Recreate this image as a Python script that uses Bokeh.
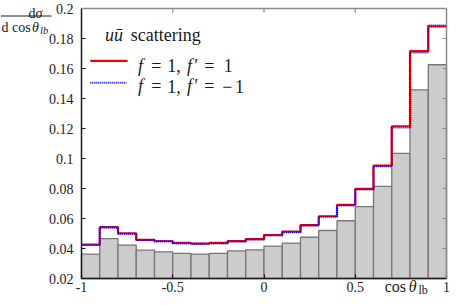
from bokeh.plotting import figure
from bokeh.models import FixedTicker, Range1d, Label, Arrow, LinearAxis
from bokeh.embed import file_html
from bokeh.resources import INLINE

# ---------------- data ----------------
bin_edges = [-1.0, -0.9, -0.8, -0.7, -0.6, -0.5, -0.4, -0.3, -0.2, -0.1, 0.0,
             0.1, 0.2, 0.3, 0.4, 0.5, 0.6, 0.7, 0.8, 0.9, 1.0]
gray_hist = [0.0362, 0.0466, 0.0423, 0.0389, 0.0377, 0.0367, 0.0363, 0.0368, 0.0384, 0.0391,
             0.0416, 0.0436, 0.0475, 0.0520, 0.0585, 0.0679, 0.0814, 0.1034, 0.1458, 0.1625]
red_f1_fp1 = [0.0426, 0.0542, 0.0501, 0.0458, 0.0450, 0.0437, 0.0433, 0.0437, 0.0449, 0.0463,
              0.0490, 0.0512, 0.0556, 0.0615, 0.0691, 0.0798, 0.0953, 0.1215, 0.1716, 0.1880]
blue_f1_fpm1 = [0.0424, 0.0540, 0.0499, 0.0456, 0.0447, 0.0434, 0.0431, 0.0434, 0.0446, 0.0460,
                0.0487, 0.0509, 0.0553, 0.0611, 0.0687, 0.0794, 0.0948, 0.1207, 0.1706, 0.1887]
x_ticks = [-1, -0.5, 0, 0.5, 1]
x_tick_labels = ["-1", "-0.5", "0", "0.5", "1"]
y_ticks = [0.02, 0.04, 0.06, 0.08, 0.1, 0.12, 0.14, 0.16, 0.18, 0.2]
y_tick_labels = ["0.02", "0.04", "0.06", "0.08", "0.1", "0.12", "0.14", "0.16", "0.18", "0.2"]

FONT = "Liberation Serif"
DARK = "#1a1a1a"
FRAME_GRAY = "#8a8a8a"

# layout: the plotting frame fills the figure; the axes box is placed by pixels
W, H = 450, 297
PX_L, PX_R, PX_T, PX_B = 81, 446, 8, 278      # pixels of x=-1, x=1, y=0.2, y=0.02
x0, x1 = x_ticks[0], x_ticks[-1]
y0, y1 = y_ticks[0], y_ticks[-1]
sx = (PX_R - PX_L) / (x1 - x0)
sy = (PX_B - PX_T) / (y1 - y0)
x_start, x_end = x0 - PX_L / sx, x1 + (W - PX_R) / sx
y_start, y_end = y0 - (H - PX_B) / sy, y1 + PX_T / sy

p = figure(width=W, height=H, output_backend="svg", toolbar_location=None,
           x_range=Range1d(x_start, x_end), y_range=Range1d(y_start, y_end),
           x_axis_location=None, y_axis_location=None, min_border=0)
p.outline_line_color = None
p.xgrid.visible = False
p.ygrid.visible = False
p.background_fill_color = "white"
p.border_fill_color = "white"


def xd(px):
    return x_start + px / sx


def yd(py):
    return y_end - py / sy


def xr(ref_px):
    return PX_L + (ref_px - 81) * (PX_R - PX_L) / (453 - 81)


def yr(ref_py):
    return PX_T + (ref_py - 7) * (PX_B - PX_T) / (282 - 7)


def style_axis(ax, ticks, labels, standoff):
    ax.ticker = FixedTicker(ticks=ticks)
    ax.minor_tick_line_color = None
    ax.major_tick_in = 4
    ax.major_tick_out = 0
    ax.axis_line_color = DARK
    ax.axis_line_width = 1.5
    ax.major_tick_line_color = DARK
    ax.major_tick_line_width = 1.2
    ax.major_label_overrides = {t: l for t, l in zip(ticks, labels)}
    ax.major_label_text_font = FONT
    ax.major_label_text_font_size = "14px"
    ax.major_label_text_color = "#222222"
    ax.major_label_standoff = standoff


# histogram bars
p.quad(left=bin_edges[:-1], right=bin_edges[1:], bottom=y0, top=gray_hist,
       fill_color="#cccccc", line_color="#777777", line_width=1.3)

# step lines
p.step(x=bin_edges, y=red_f1_fp1 + [red_f1_fp1[-1]], mode="after",
       line_color="#ff0000", line_width=2.2)
p.step(x=bin_edges, y=blue_f1_fpm1 + [blue_f1_fpm1[-1]], mode="after",
       line_color="#0000ff", line_width=2, line_dash="1 1")

# axes at fixed locations
xa = LinearAxis(fixed_location=y0, bounds=(x0, x1))
style_axis(xa, x_ticks, x_tick_labels, 3)
p.add_layout(xa, "below")
ya = LinearAxis(fixed_location=x0, bounds=(y0, y1))
style_axis(ya, y_ticks, y_tick_labels, 8)
p.add_layout(ya, "left")


def seg(xa_, ya_, xb_, yb_, color, width, dash="solid"):
    p.add_layout(Arrow(end=None, x_start=xa_, y_start=ya_, x_end=xb_, y_end=yb_,
                       line_color=color, line_width=width, line_dash=dash))


# gray top / right frame with inward ticks
seg(x0, y1, x1, y1, FRAME_GRAY, 1.5)
seg(x1, y0, x1, y1, FRAME_GRAY, 1.5)
for t in x_ticks[1:-1]:
    seg(t, y1, t, yd(PX_T + 4), FRAME_GRAY, 1.2)
for t in y_ticks[1:-1]:
    seg(x1, t, xd(PX_R - 4), t, FRAME_GRAY, 1.2)


def lab(txt, px, py, size, style="normal", color=DARK):
    p.add_layout(Label(x=xd(px), y=yd(py), text=txt, text_font=FONT,
                       text_font_size=f"{size}px", text_font_style=style,
                       text_color=color, text_align="left",
                       text_baseline="alphabetic"))


# legend title
lab("uū", xr(105), yr(33.7), 18, "italic")
lab("scattering", xr(131.3), yr(33.7), 18)

# legend sample lines
seg(xd(xr(90)), yd(yr(60.3)), xd(xr(128)), yd(yr(60.3)), "#ff0000", 2.2)
seg(xd(xr(90)), yd(yr(82.7)), xd(xr(127)), yd(yr(82.7)), "#0000ff", 2, "1 1")

# legend entries
for base, last in ((65.3, [("1", 226.0)]), (86.0, [("−", 224.5), ("1", 237.5)])):
    b = yr(base)
    lab("f", xr(138.7), b, 18, "italic")
    lab("=", xr(152.0), b, 18)
    lab("1,", xr(168.5), b, 18)
    lab("f", xr(188.5), b, 18, "italic")
    lab("′", xr(196.0), b, 18)
    lab("=", xr(206.0), b, 18)
    for t, px in last:
        lab(t, xr(px), b, 18)

# y axis label  dσ / d cos θ_lb  (top-left corner)
lab("d", 28.0, 12.5, 14)
lab("σ", 35.0, 12.5, 14, "italic")
seg(xd(0.5), yd(15.5), xd(51), yd(15.5), DARK, 1)
lab("d", 1.0, 26.5, 14)
lab("cos", 11.5, 26.5, 14)
lab("θ", 31.5, 26.5, 14, "italic")
lab("lb", 39.5, 30.0, 10.5, "italic")

# x axis label  cos θ_lb
lab("cos", xr(390), PX_B + 8, 16)
lab("θ", xr(414.5), PX_B + 8, 16, "italic")
lab("lb", xr(424.5), PX_B + 11, 12)

open("out.html", "w").write(file_html(p, INLINE))
